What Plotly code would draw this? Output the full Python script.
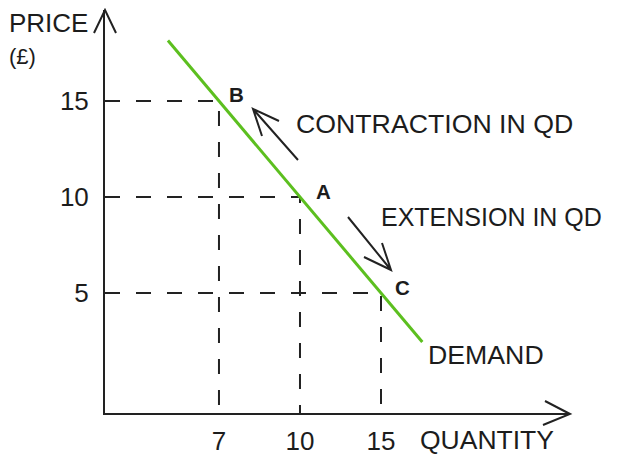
import numpy as np
import plotly.graph_objects as go

# ---- data ----
quantity_labels = ["7", "10", "15"]      # quantity tick labels (schematic, evenly spaced)
quantity_pos = [1, 2, 3]                  # position of each quantity on the schematic axis
prices = [15, 10, 5]                      # price at each point
point_names = ["B", "A", "C"]
price_ticks = [5, 10, 15]

# ---- axes ranges ----
x_range = [-0.407, 5.333]
y_range = [-1.25, 19.74]

TXT = "#1c1c1c"
LINE = "#222222"
FONT = "Liberation Sans"
GREEN = "#5cbf1f"

fig = go.Figure()

# dashed guide lines from axis to each point and down to the quantity axis
for q, p in zip(quantity_pos, prices):
    fig.add_trace(go.Scatter(
        x=[x_range[0], q, q], y=[p, p, y_range[0]],
        mode="lines", line=dict(color=LINE, width=2, dash="15px,16px"),
        hoverinfo="skip", showlegend=False, cliponaxis=False))

# demand curve: straight line through the points, extended beyond B and C
slope, intercept = np.polyfit(quantity_pos, prices, 1)
dx = np.array([0.37, 3.51])
fig.add_trace(go.Scatter(
    x=dx, y=slope * dx + intercept, mode="lines",
    line=dict(color=GREEN, width=3), hoverinfo="skip", showlegend=False))

annotations = []
shapes = []

# point labels
shifts = {"B": (18, 7), "A": (24, 6), "C": (21, 6)}
for q, p, name in zip(quantity_pos, prices, point_names):
    sx, sy = shifts[name]
    annotations.append(dict(x=q, y=p, text="<b>" + name + "</b>", showarrow=False,
                            xshift=sx, yshift=sy,
                            font=dict(family=FONT, size=20.5, color=TXT)))

# plot area spans x 105..570 and y 10..413 in the reference picture
def paper_x(px):
    return (px - 105) / 465

def paper_y(py):
    return (413 - py) / 403

def label(text, px, py, size=26.7):
    annotations.append(dict(xref="paper", yref="paper", x=paper_x(px), y=paper_y(py),
                            text=text, showarrow=False, xanchor="left", yanchor="middle",
                            font=dict(family=FONT, size=size, color=TXT)))

label("PRICE", 7, 23, 26)
label("(£)", 7, 57, 22)
label("QUANTITY", 418, 440, 26.5)
label("CONTRACTION IN QD", 294, 124)
label("EXTENSION IN QD", 379, 217, 25)
label("DEMAND", 426, 355)

def chevron(px, py, path, width=2):
    shapes.append(dict(type="path", xref="paper", yref="paper",
                       xsizemode="pixel", ysizemode="pixel",
                       xanchor=paper_x(px), yanchor=paper_y(py),
                       path=path, line=dict(color=LINE, width=width)))

# axis arrowheads (open chevrons)
chevron(105, 10, "M-11,-23 L0,0 L11,-23")
chevron(570, 414, "M-25,13 L0,0 L-27,-11")
# movement arrows along the demand curve
chevron(253, 109, "M45,-51 L0,0 M26,-12 L0,0 L9,-27")
chevron(391, 270, "M-43,53 L0,0 M-27,13 L0,0 L-9,27")

fig.update_layout(
    width=609, height=447,
    margin=dict(l=97, r=47, t=2, b=42),
    paper_bgcolor="white", plot_bgcolor="white",
    annotations=annotations, shapes=shapes,
    xaxis=dict(range=x_range, showgrid=False, zeroline=False, automargin=False,
               showline=True, linecolor=LINE, linewidth=2,
               tickmode="array", tickvals=quantity_pos, ticktext=quantity_labels,
               ticks="outside", ticklen=4, tickcolor="rgba(0,0,0,0)",
               tickfont=dict(family=FONT, size=26, color=TXT)),
    yaxis=dict(range=y_range, showgrid=False, zeroline=False, automargin=False,
               showline=True, linecolor=LINE, linewidth=2,
               tickmode="array", tickvals=price_ticks,
               ticktext=[str(v) for v in price_ticks],
               ticks="outside", ticklen=9, tickcolor="rgba(0,0,0,0)",
               tickfont=dict(family=FONT, size=26, color=TXT)),
)

fig.write_html("out.html")
